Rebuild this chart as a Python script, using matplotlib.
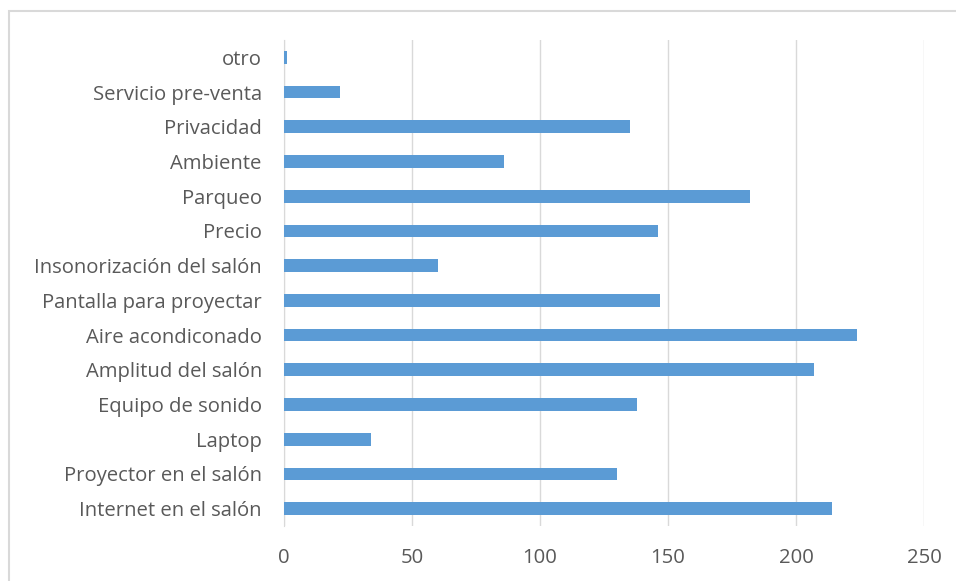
import matplotlib.pyplot as plt
from matplotlib.patches import Rectangle

# Datos
categorias = ['Internet en el salón', 'Proyector en el salón', 'Laptop',
              'Equipo de sonido', 'Amplitud del salón', 'Aire acondiconado',
              'Pantalla para proyectar', 'Insonorización del salón', 'Precio',
              'Parqueo', 'Ambiente', 'Privacidad', 'Servicio pre-venta', 'otro']
valores = [214, 130, 34, 138, 207, 224, 147, 60, 146, 182, 86, 135, 22, 1]
ticks_x = [0, 50, 100, 150, 200, 250]

plt.rcParams['font.family'] = ['Open Sans', 'DejaVu Sans']

fig = plt.figure(figsize=(9.56, 5.81), dpi=100)
ax = fig.add_axes([284/956, 1 - 526/581, (924-284)/956, (526-40)/581])

ax.barh(range(len(categorias)), valores, height=0.37, color='#5B9BD5', zorder=3)

ax.set_xlim(0, 250)
ax.set_ylim(-0.5, len(categorias) - 0.5)
ax.set_xticks(ticks_x)
ax.set_yticks(range(len(categorias)))
ax.set_yticklabels(categorias)

ax.grid(axis='x', color='#D9D9D9', linewidth=1, zorder=0)
for s in ['top', 'right', 'bottom']:
    ax.spines[s].set_visible(False)
ax.spines['left'].set_color('#D9D9D9')
ax.tick_params(axis='both', length=0, labelsize=14.6, labelcolor='#595959')
ax.tick_params(axis='y', pad=16)
ax.tick_params(axis='x', pad=16)

# marco exterior del gráfico
fig.add_artist(Rectangle((9/956, -0.1), 1.1, 1 - 11/581 + 0.1,
                         transform=fig.transFigure, fill=False,
                         edgecolor='#D9D9D9', linewidth=1.5))

fig.savefig('out.png', dpi=100)
